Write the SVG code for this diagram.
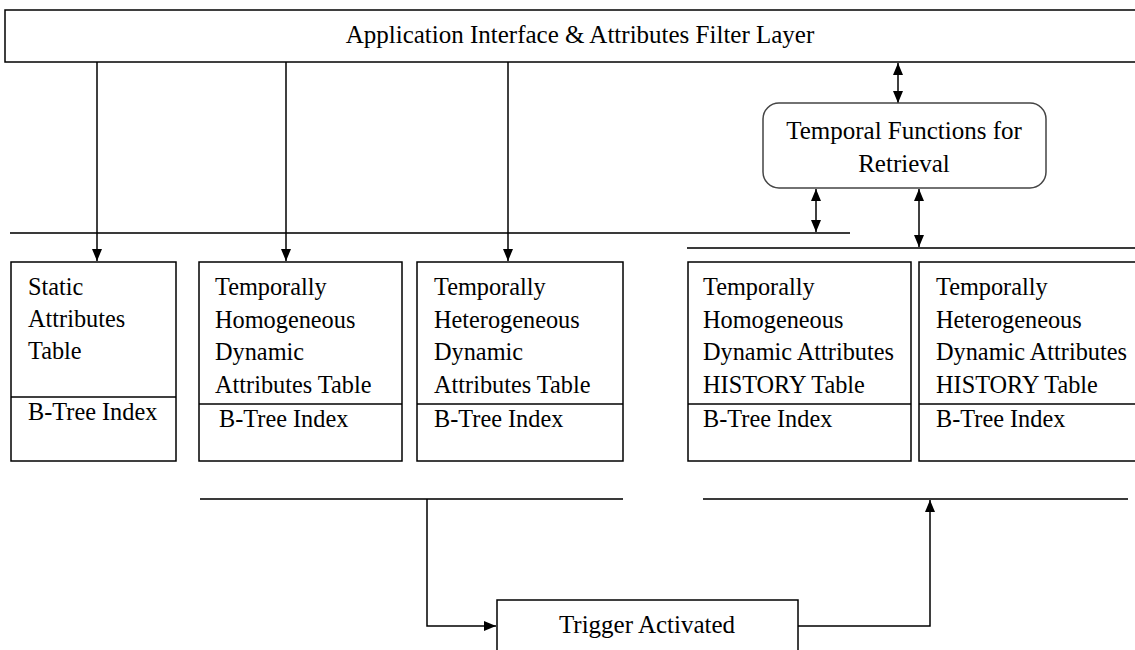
<svg xmlns="http://www.w3.org/2000/svg" width="1135" height="650" viewBox="0 0 1135 650">
<style>
.box{fill:#fff;stroke:#000;stroke-width:1.5}
.bus{stroke:#3a3a3a;stroke-width:2;fill:none}
.con{stroke:#000;stroke-width:1.5;fill:none}
text{font-family:"Liberation Serif","Times New Roman",serif;fill:#000}
.t{font-size:24.3px}
.h{font-size:25px}
.c{text-anchor:middle}
</style>
<defs>
<marker id="ah" viewBox="0 0 12 10" refX="12" refY="5" markerWidth="12" markerHeight="10" markerUnits="userSpaceOnUse" orient="auto-start-reverse">
<path d="M0,0 L12,5 L0,10 Z" fill="#000"/>
</marker>
</defs>
<rect width="1135" height="650" fill="#fff"/>

<g id="connectors">
<line class="bus" x1="10" y1="233" x2="850" y2="233"/>
<line class="bus" x1="687" y1="248" x2="1135" y2="248"/>
<line class="bus" x1="200" y1="499" x2="623" y2="499"/>
<line class="bus" x1="703" y1="499" x2="1128" y2="499"/>
<line class="con" x1="97" y1="62" x2="97" y2="261" marker-end="url(#ah)"/>
<line class="con" x1="286" y1="62" x2="286" y2="261" marker-end="url(#ah)"/>
<line class="con" x1="508" y1="62" x2="508" y2="261" marker-end="url(#ah)"/>
<line class="con" x1="898" y1="63" x2="898" y2="103" marker-start="url(#ah)" marker-end="url(#ah)"/>
<line class="con" x1="816" y1="189" x2="816" y2="232" marker-start="url(#ah)" marker-end="url(#ah)"/>
<line class="con" x1="919" y1="189" x2="919" y2="247" marker-start="url(#ah)" marker-end="url(#ah)"/>
<polyline class="con" points="427,499 427,626 496,626" marker-end="url(#ah)"/>
<polyline class="con" points="798,626 930,626 930,500" marker-end="url(#ah)"/>
</g>

<g id="top-layer">
<rect class="box" x="5" y="10" width="1140" height="52"/>
<text class="h c" x="580" y="43">Application Interface &amp; Attributes Filter Layer</text>
</g>

<g id="temporal-functions">
<rect class="box" x="763" y="103" width="283" height="85" rx="16" ry="16" style="stroke:#444"/>
<text class="h c" x="904" y="139">Temporal Functions for</text>
<text class="h c" x="904" y="172">Retrieval</text>
</g>

<g id="static-table">
<rect class="box" x="11" y="262" width="165" height="199"/>
<line class="con" x1="11" y1="397" x2="176" y2="397"/>
<text class="t" x="28" y="295">Static</text>
<text class="t" x="28" y="327">Attributes</text>
<text class="t" x="28" y="359">Table</text>
<text class="t" x="28" y="420">B-Tree Index</text>
</g>

<g id="homog-table">
<rect class="box" x="199" y="262" width="203" height="199"/>
<line class="con" x1="199" y1="404" x2="402" y2="404"/>
<text class="t" x="215" y="295">Temporally</text>
<text class="t" x="215" y="328">Homogeneous</text>
<text class="t" x="215" y="360">Dynamic</text>
<text class="t" x="215" y="393">Attributes Table</text>
<text class="t" x="219" y="427">B-Tree Index</text>
</g>

<g id="hetero-table">
<rect class="box" x="417" y="262" width="206" height="199"/>
<line class="con" x1="417" y1="404" x2="623" y2="404"/>
<text class="t" x="434" y="295">Temporally</text>
<text class="t" x="434" y="328">Heterogeneous</text>
<text class="t" x="434" y="360">Dynamic</text>
<text class="t" x="434" y="393">Attributes Table</text>
<text class="t" x="434" y="427">B-Tree Index</text>
</g>

<g id="homog-history">
<rect class="box" x="688" y="262" width="223" height="199"/>
<line class="con" x1="688" y1="404" x2="911" y2="404"/>
<text class="t" x="703" y="295">Temporally</text>
<text class="t" x="703" y="328">Homogeneous</text>
<text class="t" x="703" y="360">Dynamic Attributes</text>
<text class="t" x="703" y="393">HISTORY Table</text>
<text class="t" x="703" y="427">B-Tree Index</text>
</g>

<g id="hetero-history">
<rect class="box" x="919" y="262" width="230" height="199"/>
<line class="con" x1="919" y1="404" x2="1149" y2="404"/>
<text class="t" x="936" y="295">Temporally</text>
<text class="t" x="936" y="328">Heterogeneous</text>
<text class="t" x="936" y="360">Dynamic Attributes</text>
<text class="t" x="936" y="393">HISTORY Table</text>
<text class="t" x="936" y="427">B-Tree Index</text>
</g>

<g id="trigger">
<rect class="box" x="497" y="600" width="301" height="60"/>
<text class="h c" x="647" y="633">Trigger Activated</text>
</g>
</svg>
